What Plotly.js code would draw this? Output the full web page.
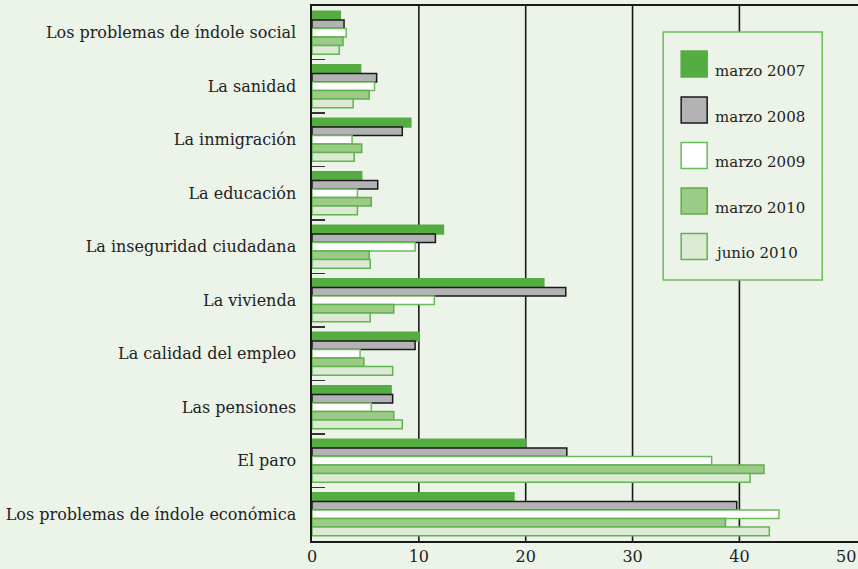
<!DOCTYPE html>
<html><head><meta charset="utf-8">
<script src="https://cdn.plot.ly/plotly-3.0.1.min.js"></script>
<style>html,body{margin:0;padding:0;background:#ECF3E8;}#chart{width:858px;height:569px;}</style>
</head><body><div id="chart"></div>
<script>
const categories = [
  "Los problemas de índole social",
  "La sanidad",
  "La inmigración",
  "La educación",
  "La inseguridad ciudadana",
  "La vivienda",
  "La calidad del empleo",
  "Las pensiones",
  "El paro",
  "Los problemas de índole económica"
];
const seriesNames = ["marzo 2007", "marzo 2008", "marzo 2009", "marzo 2010", "junio 2010"];
const marzo2007 = [2.65, 4.55, 9.25, 4.65, 12.3, 21.7, 10.0, 7.4, 19.95, 18.9];
const marzo2008 = [3.0, 6.05, 8.45, 6.15, 11.55, 23.75, 9.65, 7.55, 23.85, 39.75];
const marzo2009 = [3.2, 5.85, 3.75, 4.25, 9.65, 11.45, 4.5, 5.55, 37.4, 43.7];
const marzo2010 = [2.9, 5.35, 4.65, 5.55, 5.35, 7.65, 4.85, 7.65, 42.3, 38.7];
const junio2010 = [2.55, 3.85, 3.95, 4.25, 5.45, 5.45, 7.55, 8.45, 41.0, 42.8];
const xTicks = [0, 10, 20, 30, 40, 50];

const seriesValues = [marzo2007, marzo2008, marzo2009, marzo2010, junio2010];
const fills = ["#55AD42", "#B3B3B5", "#FFFFFF", "#9BCB87", "#DCEAD4"];
const borders = ["#55AD42", "#1A1A1A", "#6BBA5A", "#5DB04B", "#62B451"];

const BG = "#ECF3E8";
const FONT = "DejaVu Serif";

const traces = seriesNames.map((name, i) => ({
  type: "bar",
  orientation: "h",
  name: name,
  y: categories,
  x: seriesValues[i],
  marker: {color: fills[i], line: {color: borders[i], width: 1.5}},
  showlegend: false,
  hoverinfo: "x+y+name"
}));

const L = 312, T = 6, B = 541, PXU = 10.68;
const px2x = p => (p - L) / PXU;
const py2y = p => (B - p) / (B - T);

const shapes = [];
[10, 20, 30, 40].forEach(v => shapes.push({
  type: "line", xref: "x", yref: "paper", x0: v, x1: v, y0: 0, y1: 1,
  line: {color: "#1A1A1A", width: 1.6}, layer: "below"
}));
shapes.push({type: "rect", xref: "x", yref: "paper",
  x0: px2x(663), x1: px2x(822), y0: py2y(32), y1: py2y(280),
  fillcolor: BG, line: {color: "#6CBB5A", width: 1.5}, layer: "above"});
const annotations = [];
const swTop = [51, 97, 142.5, 188, 233.5];
const txtY = [71, 117, 162, 208, 253];
seriesNames.forEach((name, i) => {
  shapes.push({type: "rect", xref: "x", yref: "paper",
    x0: px2x(681), x1: px2x(707), y0: py2y(swTop[i]), y1: py2y(swTop[i] + 26),
    fillcolor: fills[i], line: {color: borders[i], width: 1.5}, layer: "above"});
  annotations.push({xref: "x", yref: "paper", x: px2x(713), y: py2y(txtY[i]),
    xanchor: "left", yanchor: "middle", showarrow: false, text: name,
    font: {family: FONT, size: 15, color: "#222222"}});
});

const layout = {
  width: 858, height: 569,
  margin: {l: L, r: 0, t: T, b: 569 - B},
  paper_bgcolor: BG, plot_bgcolor: BG,
  barmode: "group", bargap: 0.2, bargroupgap: 0,
  font: {family: FONT, size: 16, color: "#222222"},
  xaxis: {
    range: [0, 51.1], tickvals: xTicks, ticktext: xTicks.map(String),
    showgrid: false, zeroline: false,
    showline: true, mirror: true, linecolor: "#1A1A1A", linewidth: 1.6,
    ticks: "", tickfont: {family: FONT, size: 16, color: "#222222"}
  },
  yaxis: {
    type: "category", autorange: "reversed",
    showgrid: false, zeroline: false,
    showline: true, linecolor: "#1A1A1A", linewidth: 1.6,
    ticks: "inside", tickson: "boundaries", ticklen: 13, tickwidth: 1.5, tickcolor: "#333333",
    ticklabelstandoff: 11,
    tickfont: {family: FONT, size: 16, color: "#222222"}
  },
  shapes: shapes,
  annotations: annotations,
  showlegend: false
};

Plotly.newPlot("chart", traces, layout, {displayModeBar: false, staticPlot: true});
</script></body></html>
